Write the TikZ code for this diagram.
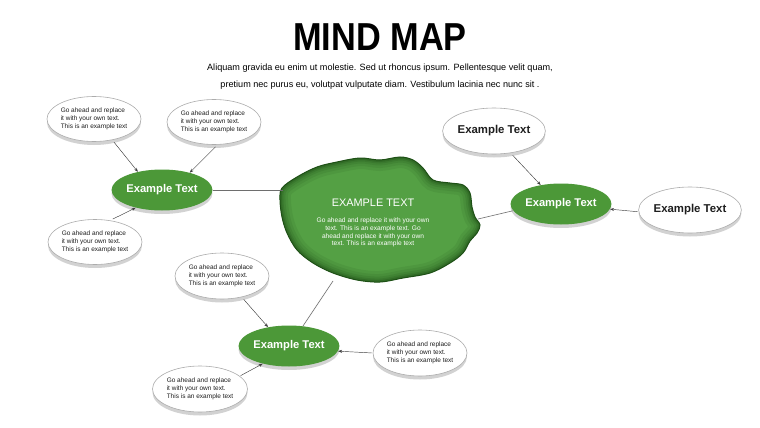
\documentclass[tikz,border=0pt]{standalone}
\usepackage{fontspec}
\setmainfont{Liberation Sans}
\usetikzlibrary{shapes.geometric,shadows,arrows.meta}
\definecolor{gfill}{RGB}{76,152,56}
\definecolor{bfill}{RGB}{84,160,68}
\definecolor{bdark}{RGB}{30,80,22}
\definecolor{linec}{RGB}{110,110,110}
\definecolor{txt}{RGB}{30,30,30}
\tikzset{
  bubble/.style={ellipse, draw=gray!65, fill=white, line width=0.6pt, inner sep=0pt,
    drop shadow={shadow xshift=0pt, shadow yshift=-3.5pt, fill=gray!35, opacity=1},
    font=\fontsize{6.5}{7.7}\selectfont, text=txt, align=left},
  gnode/.style={ellipse, fill=gfill, draw=none, inner sep=0pt, minimum width=94pt, minimum height=41pt,
    drop shadow={shadow xshift=0pt, shadow yshift=-3.5pt, fill=gray!35, opacity=1},
    font=\fontsize{11.2}{13}\selectfont\bfseries, text=white},
  arr/.style={-{Stealth[length=4pt,width=3pt]}, draw=black!75, line width=0.45pt},
  link/.style={draw=linec, line width=0.6pt}
}
\begin{document}
\begin{tikzpicture}[x=1pt,y=-1pt]
\useasboundingbox (0,0) rectangle (760,428);
\fill[white] (0,0) rectangle (760,428);
% title
\node[font=\fontsize{39}{42}\selectfont\bfseries, xscale=0.88] (title) at (380,37) {MIND MAP};
\node[font=\fontsize{9.1}{17}\selectfont, align=center] (sub) at (380,76.5)
  {Aliquam gravida eu enim ut molestie. Sed ut rhoncus ipsum. Pellentesque velit quam,\\
   pretium nec purus eu, volutpat vulputate diam. Vestibulum lacinia nec nunc sit .};
% central blob
\path[save path=\blob] plot[smooth cycle, tension=0.55] coordinates {
 (282,188) (297,177) (317,167) (337,162) (360,158) (380,160) (400,157) (413,160)
 (423,168) (433,180) (450,183) (463,185) (470,193) (472,207) (475,217) (480,225)
 (477,233) (470,241) (463,253) (450,263) (430,273) (403,278) (380,282) (357,280)
 (333,273) (313,263) (297,250) (287,233) (282,217) (280,200)};
\begin{scope}
\clip[use path=\blob];
\fill[bfill, use path=\blob];
\foreach \w/\o in {22/0.10,16/0.12,11/0.15,7/0.2,4/0.3}
  \draw[bdark, line width=\w pt, opacity=\o, use path=\blob];
\end{scope}
\draw[bdark, line width=1pt, use path=\blob];
\node[font=\fontsize{10.9}{12}\selectfont, text=white] (ct) at (373,203) {EXAMPLE TEXT};
\node[font=\fontsize{6.6}{7.8}\selectfont, text=white, align=center] (cb) at (373,232.5)
  {Go ahead and replace it with your own\\ text. This is an example text. Go\\ ahead and replace it with your own\\ text. This is an example text};
\coordinate (pl) at (283,190);
\coordinate (pr) at (478,219);
\coordinate (pb) at (333,281);
% green nodes
\node[gnode] (g1) at (162,190) {Example Text};
\node[gnode] (g2) at (561,204) {Example Text};
\node[gnode] (g3) at (289,346) {Example Text};
% bubbles
\node[bubble, minimum width=94pt, minimum height=45pt] (b1) at (94,119) {Go ahead and replace\\ it with your own text.\\ This is an example text};
\node[bubble, minimum width=84pt, minimum height=45pt] (b2) at (214,122) {Go ahead and replace\\ it with your own text.\\ This is an example text};
\node[bubble, minimum width=94pt, minimum height=45pt] (b3) at (95,242) {Go ahead and replace\\ it with your own text.\\ This is an example text};
\node[bubble, minimum width=95pt, minimum height=46pt, font=\fontsize{11.4}{13}\selectfont\bfseries] (r1) at (494,131) {Example Text};
\node[bubble, minimum width=95pt, minimum height=46pt, font=\fontsize{11.4}{13}\selectfont\bfseries] (r2) at (690,210) {Example Text};
\node[bubble, minimum width=94pt, minimum height=46pt] (b4) at (222,276) {Go ahead and replace\\ it with your own text.\\ This is an example text};
\node[bubble, minimum width=94pt, minimum height=46pt] (b5) at (420,353) {Go ahead and replace\\ it with your own text.\\ This is an example text};
\node[bubble, minimum width=95pt, minimum height=46pt] (b6) at (200,389) {Go ahead and replace\\ it with your own text.\\ This is an example text};
% links to center
\draw[link] (g1.east) -- (pl);
\draw[link] (g2.188) -- (pr);
\draw[link] (g3.55) -- (pb);
% arrows
\draw[arr, shorten <=3pt] (b1.311) -- (g1.143);
\draw[arr, shorten <=3pt] (b2.279) -- (g1.32);
\draw[arr, shorten <=3pt] (b3.55) -- (g1.214);
\draw[arr, shorten <=3pt] (r1.307) -- (g2.137);
\draw[arr, shorten <=1pt] (r2.182) -- (g2.354);
\draw[arr, shorten <=3pt] (b4.313) -- (g3.138);
\draw[arr, shorten <=1pt] (b5.180) -- (g3.354);
\draw[arr, shorten <=1pt] (b6.18) -- (g3.214);
\end{tikzpicture}
\end{document}
